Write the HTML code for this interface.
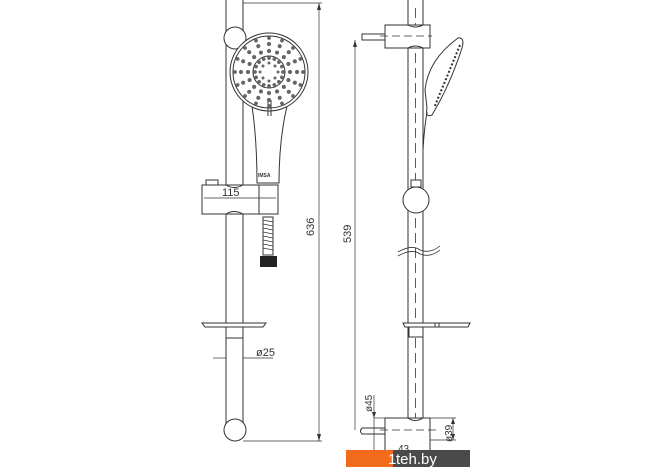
<!DOCTYPE html>
<html><head><meta charset="utf-8"><style>
html,body{margin:0;padding:0;background:#fff;}
svg{display:block;}
text{font-family:"Liberation Sans",sans-serif;fill:#333;}
</style></head><body>
<svg width="670" height="471" viewBox="0 0 670 471" xmlns="http://www.w3.org/2000/svg">
<defs>
<g id="ray">
<circle cx="269" cy="58" r="1.9" fill="#666"/>
<circle cx="269" cy="51" r="2.1" fill="#666"/>
<circle cx="269" cy="44" r="2.1" fill="#666"/>
<circle cx="269" cy="38" r="1.9" fill="#666"/>
</g>
</defs>
<g fill="none" stroke="#333" stroke-width="1">
<rect x="226" y="-2" width="17" height="432" fill="#fff"/>
<circle cx="235" cy="38" r="11" fill="#fff"/>
<circle cx="235" cy="430" r="11" fill="#fff"/>
<path d="M252 106 Q257 140 257 183 L279 183 Q279 140 287 106" fill="#fff"/>
<circle cx="269" cy="72" r="39" fill="#fff"/>
<circle cx="269" cy="72" r="36"/>
<circle cx="269" cy="72" r="16"/>
<line x1="268" y1="100" x2="268" y2="116"/><line x1="271" y1="100" x2="271" y2="116"/>
</g>
<g>
<use href="#ray"/><use href="#ray" transform="rotate(22.5 269 72)"/><use href="#ray" transform="rotate(45 269 72)"/><use href="#ray" transform="rotate(67.5 269 72)"/>
<use href="#ray" transform="rotate(90 269 72)"/><use href="#ray" transform="rotate(112.5 269 72)"/><use href="#ray" transform="rotate(135 269 72)"/><use href="#ray" transform="rotate(157.5 269 72)"/>
<use href="#ray" transform="rotate(180 269 72)"/><use href="#ray" transform="rotate(202.5 269 72)"/><use href="#ray" transform="rotate(225 269 72)"/><use href="#ray" transform="rotate(247.5 269 72)"/>
<use href="#ray" transform="rotate(270 269 72)"/><use href="#ray" transform="rotate(292.5 269 72)"/><use href="#ray" transform="rotate(315 269 72)"/><use href="#ray" transform="rotate(337.5 269 72)"/>
<circle cx="269" cy="63" r="1.5" fill="#666"/><circle cx="278" cy="72" r="1.5" fill="#666"/><circle cx="269" cy="81" r="1.5" fill="#666"/><circle cx="260" cy="72" r="1.5" fill="#666"/>
<circle cx="275" cy="66" r="1.5" fill="#666"/><circle cx="275" cy="78" r="1.5" fill="#666"/><circle cx="263" cy="78" r="1.5" fill="#666"/><circle cx="263" cy="66" r="1.5" fill="#666"/>
</g>
<text x="258" y="177" font-size="5" font-weight="bold">IMSA</text>
<g fill="none" stroke="#333" stroke-width="1">
<rect x="206" y="180" width="12" height="5" fill="#fff"/>
<path d="M202 185 L278 185 L278 214 L202 214 Z" fill="#fff"/>
<path d="M226 185 Q234 190 243 185 M226 214 Q234 209 243 214"/>
<line x1="259" y1="185" x2="259" y2="214"/>
<line x1="204" y1="198" x2="276" y2="198" stroke-width="0.7"/>
<rect x="263" y="217" width="10" height="38"/>
<path d="M263 220 L273 222 M263 224 L273 226 M263 228 L273 230 M263 232 L273 234 M263 236 L273 238 M263 240 L273 242 M263 244 L273 246 M263 248 L273 250" stroke-width="0.8"/>
</g>
<rect x="260" y="256" width="17" height="11" fill="#222"/>
<text x="222" y="196" font-size="11">115</text>
<g fill="none" stroke="#333" stroke-width="1">
<path d="M202 323 L266 323 L263 327 L205 327 Z" fill="#fff"/>
<rect x="226" y="327" width="17" height="11" fill="#fff"/>
<line x1="213" y1="358" x2="226" y2="358" stroke-width="0.7"/>
<line x1="243" y1="358" x2="273" y2="358" stroke-width="0.7"/>
<line x1="243" y1="3" x2="322" y2="3" stroke-width="0.7"/>
<line x1="243" y1="441" x2="322" y2="441" stroke-width="0.7"/>
<line x1="319" y1="3" x2="319" y2="441" stroke-width="0.7"/>
</g>
<path d="M319 3 l-2 7 l4 0 Z M319 441 l-2 -7 l4 0 Z" fill="#333"/>
<text x="256" y="356" font-size="11">ø25</text>
<text font-size="11" transform="translate(314 236) rotate(-90)">636</text>

<g fill="none" stroke="#333" stroke-width="1">
<rect x="408" y="-2" width="15" height="442" fill="#fff"/>
<line x1="415.5" y1="8" x2="415.5" y2="440" stroke-dasharray="10 5" stroke-width="0.8"/>
<rect x="385" y="25" width="45" height="23" fill="#fff"/>
<path d="M408 25 Q415 29 423 25 M408 48 Q415 44 423 48"/>
<line x1="380" y1="36" x2="432" y2="36" stroke-dasharray="8 4" stroke-width="0.7"/>
<rect x="362" y="34" width="23" height="6"/>
<path d="M425 90 Q428 60 458 38 Q465 37 462 48 Q450 85 432 115 Q425 118 427 108 Z" fill="#fff"/>
<path d="M460 45 L434 108" stroke-width="2" stroke-dasharray="2 2"/>
<path d="M423 150 Q424 130 427 112"/>
<rect x="411" y="180" width="10" height="7" fill="#fff"/>
<circle cx="416" cy="200" r="13" fill="#fff"/>
<path d="M398 252 Q412 244 420 250 Q430 254 440 246 M398 256 Q412 248 420 254 Q430 258 440 250" stroke-width="0.8"/>
<path d="M403 323 L470 323 L468 327 L405 327 Z" fill="#fff"/>
<rect x="435" y="323" width="4" height="4"/>
<rect x="409" y="327" width="14" height="10" fill="#fff"/>
<rect x="385" y="418" width="45" height="34" fill="#fff"/>
<path d="M408 418 Q415 423 423 418"/>
<line x1="380" y1="430" x2="440" y2="430" stroke-dasharray="8 4" stroke-width="0.7"/>
<path d="M362 428 L385 428 L385 434 L362 434 Q359 431 362 428"/>
<line x1="355" y1="40" x2="355" y2="430" stroke-width="0.7"/>
<line x1="374" y1="418" x2="385" y2="418" stroke-width="0.7"/>
<line x1="374" y1="452" x2="385" y2="452" stroke-width="0.7"/>
<line x1="374" y1="395" x2="374" y2="452" stroke-width="0.7"/>
<line x1="430" y1="418" x2="456" y2="418" stroke-width="0.7"/>
<line x1="430" y1="440" x2="456" y2="440" stroke-width="0.7"/>
<line x1="453" y1="418" x2="453" y2="440" stroke-width="0.7"/>
</g>
<path d="M355 40 l-2 7 l4 0 Z M374 418 l-2 -6 l4 0 Z M453 418 l-2 6 l4 0 Z M453 440 l-2 -6 l4 0 Z" fill="#333"/>
<text font-size="11" transform="translate(351 243) rotate(-90)">539</text>
<text font-size="10" transform="translate(372 412) rotate(-90)">ø45</text>
<text font-size="10" transform="translate(452 442) rotate(-90)">ø39</text>
<text x="398" y="452" font-size="10">43</text>
<rect x="346" y="450" width="47" height="17" fill="#f26a1b"/>
<rect x="393" y="450" width="77" height="17" fill="#4a4a4a"/>
<text x="388" y="464" font-size="15" style="fill:#fff">1</text>
<text x="396" y="464" font-size="15" style="fill:#fff">teh.by</text>
</svg>
</body></html>
